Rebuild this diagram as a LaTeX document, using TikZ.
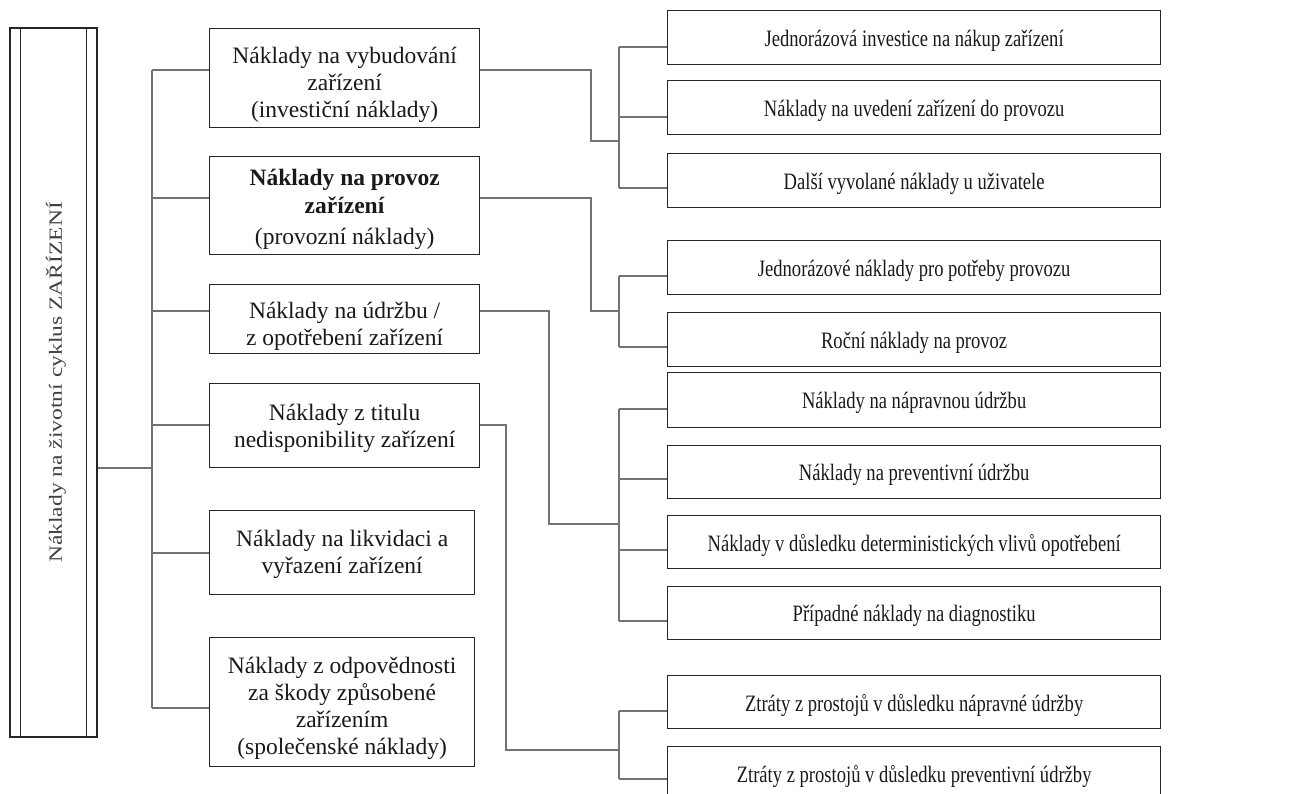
\documentclass[tikz,border=0pt]{standalone}
\usepackage{fontspec}
\setmainfont{Liberation Serif}
\newfontfamily\hfont[FakeStretch=0.79]{Liberation Serif}
\newfontfamily\vfont[FakeStretch=1.265]{Liberation Serif}
\newfontfamily\mfont{Liberation Serif}
\begin{document}
\begin{tikzpicture}[x=1pt,y=-1pt,
  box/.style={draw=black!85, line width=1.3pt, inner sep=0pt, anchor=north west},
  mbox/.style={box, minimum width=270pt},
  rbox/.style={box, minimum width=493pt, minimum height=54pt},
  mtext/.style={inner sep=0pt, align=center, text=black!90, font=\mfont\fontsize{23.5}{27}\selectfont},
  rtext/.style={inner sep=0pt, align=center, text=black!90, font=\hfont\fontsize{23.5}{27}\selectfont},
  conn/.style={draw=black!55, line width=1.2pt},
]
\useasboundingbox (0,0) rectangle (1296,794);
\clip (0,0) rectangle (1296,794);

% root
\node[draw=black!85, line width=1.3pt, minimum width=87pt, minimum height=709pt, inner sep=0pt] (root) at (53.5,382.5) {};
\draw[black!85, line width=1.2pt] ([xshift=11pt]root.north west) -- ([xshift=11pt]root.south west);
\draw[black!85, line width=1.2pt] ([xshift=-11pt]root.north east) -- ([xshift=-11pt]root.south east);
\node[rotate=90, inner sep=0pt, text=black!75, font=\vfont\fontsize{18.6}{20}\selectfont] (rootlabel) at (56,382.5) {Náklady na životní cyklus ZAŘÍZENÍ};

% middle boxes
\node[mbox, minimum height=99pt] (m1) at (209,28) {};
\node[mtext] (m1t) at ([yshift=-7pt]m1.center) {Náklady na vybudování\\zařízení\\(investiční náklady)};
\node[mbox, minimum height=98pt] (m2) at (209,156) {};
\node[mtext] (m2t) at ([yshift=-4pt]m2.center) {\textbf{Náklady na provoz}\\[1pt]\textbf{zařízení}\\[4pt](provozní náklady)};
\node[mbox, minimum height=69pt] (m3) at (209,284) {};
\node[mtext] (m3t) at ([yshift=-7pt]m3.center) {Náklady na údržbu /\\z opotřebení zařízení};
\node[mbox, minimum height=84pt] (m4) at (209,383) {};
\node[mtext] (m4t) at ([yshift=-3pt]m4.center) {Náklady z titulu\\nedisponibility zařízení};
\node[mbox, minimum width=265pt, minimum height=84pt] (m5) at (209,510) {};
\node[mtext] (m5t) at ([yshift=-2pt]m5.center) {Náklady na likvidaci a\\vyřazení zařízení};
\node[mbox, minimum width=265pt, minimum height=129pt] (m6) at (209,637) {};
\node[mtext] (m6t) at ([yshift=-6pt]m6.center) {Náklady z odpovědnosti\\za škody způsobené\\zařízením\\(společenské náklady)};

% right boxes
\node[rbox] (r1) at (667,10) {};
\node[rbox] (r2) at (667,80) {};
\node[rbox] (r3) at (667,153) {};
\node[rbox] (r4) at (667,240) {};
\node[rbox] (r5) at (667,312) {};
\node[rbox, minimum height=55pt] (r6) at (667,372) {};
\node[rbox, minimum height=53pt] (r7) at (667,445) {};
\node[rbox, minimum height=53pt] (r8) at (667,515) {};
\node[rbox, minimum height=53pt] (r9) at (667,586) {};
\node[rbox, minimum height=53pt] (r10) at (667,675) {};
\node[rbox, minimum height=54pt] (r11) at (667,746) {};
\node[rtext] (r1t) at ([yshift=-3pt]r1.center) {Jednorázová investice na nákup zařízení};
\node[rtext] (r2t) at ([yshift=-3pt]r2.center) {Náklady na uvedení zařízení do provozu};
\node[rtext] (r3t) at ([yshift=-3pt]r3.center) {Další vyvolané náklady u uživatele};
\node[rtext] (r4t) at ([yshift=-3pt]r4.center) {Jednorázové náklady pro potřeby provozu};
\node[rtext] (r5t) at ([yshift=-3pt]r5.center) {Roční náklady na provoz};
\node[rtext] (r6t) at ([yshift=-3pt]r6.center) {Náklady na nápravnou údržbu};
\node[rtext] (r7t) at ([yshift=-3pt]r7.center) {Náklady na preventivní údržbu};
\node[rtext] (r8t) at ([yshift=-3pt]r8.center) {Náklady v důsledku deterministických vlivů opotřebení};
\node[rtext] (r9t) at ([yshift=-3pt]r9.center) {Případné náklady na diagnostiku};
\node[rtext] (r10t) at ([yshift=-3pt]r10.center) {Ztráty z prostojů v důsledku nápravné údržby};
\node[rtext] (r11t) at ([yshift=-3pt]r11.center) {Ztráty z prostojů v důsledku preventivní údržby};

% left trunk
\coordinate (J) at (152,468);
\draw[conn] (root.east |- J) -- (J);
\draw[conn] (152,70) -- (152,708);
\foreach \m/\y in {m1/70, m2/198, m3/311, m4/425, m5/553, m6/708}
  \draw[conn] (152,\y) -- (\m.west |- 152,\y);

% group 1
\draw[conn] (m1.east |- 0,70) -- (591,70) -- (591,141) -- (619,141);
\draw[conn] (619,47) -- (619,188);
\foreach \r/\y in {r1/47, r2/117, r3/188}
  \draw[conn] (619,\y) -- (\r.west |- 0,\y);

% group 2
\draw[conn] (m2.east |- 0,198) -- (591,198) -- (591,311) -- (619,311);
\draw[conn] (619,276) -- (619,347);
\foreach \r/\y in {r4/276, r5/347}
  \draw[conn] (619,\y) -- (\r.west |- 0,\y);

% group 3
\draw[conn] (m3.east |- 0,311) -- (549,311) -- (549,524) -- (619,524);
\draw[conn] (619,409) -- (619,621);
\foreach \r/\y in {r6/409, r7/479, r8/550, r9/621}
  \draw[conn] (619,\y) -- (\r.west |- 0,\y);

% group 4
\draw[conn] (m4.east |- 0,425) -- (506,425) -- (506,750) -- (619,750);
\draw[conn] (619,711) -- (619,779);
\foreach \r/\y in {r10/711, r11/779}
  \draw[conn] (619,\y) -- (\r.west |- 0,\y);
\end{tikzpicture}
\end{document}
